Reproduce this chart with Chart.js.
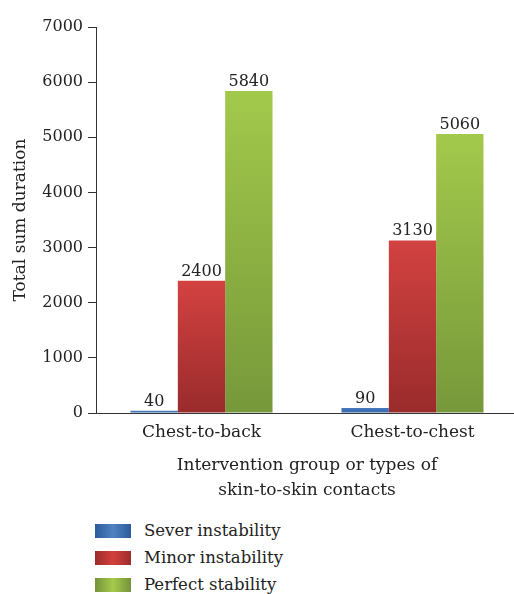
<!DOCTYPE html>
<html><head><meta charset="utf-8">
<script src="https://cdn.jsdelivr.net/npm/chart.js@4"></script>
<style>
html,body{margin:0;padding:0;background:#fff;overflow:hidden;width:514px;height:594px;}
#wrap{position:absolute;left:0;top:0;width:540px;height:505px;}
#legend{position:absolute;left:95px;top:517px;font-family:"DejaVu Serif";font-size:16.5px;color:#222;}
.item{display:flex;align-items:center;height:27px;white-space:nowrap;}
.sw{width:36px;height:14px;margin-right:13px;flex:none;}
</style></head><body>
<div id="wrap"><canvas id="c" width="540" height="505"></canvas></div>
<div id="legend"></div>
<script>
const categories = ["Chest-to-back", "Chest-to-chest"];
const seriesNames = ["Sever instability", "Minor instability", "Perfect stability"];
const severValues = [40, 90];
const minorValues = [2400, 3130];
const perfectValues = [5840, 5060];
const yTickValues = [0, 1000, 2000, 3000, 4000, 5000, 6000, 7000];
const xTitle = ["Intervention group or types of", "skin-to-skin contacts"];
const yTitle = "Total sum duration";

const FONT = "DejaVu Serif";
const styles = [
  {top: "#4677bd", bottom: "#3766aa", edge: "#2d5a9a", mid: "#4f82c4"},
  {top: "#d24241", bottom: "#9a2b2b", edge: "#9b2d2b", mid: "#d3403c"},
  {top: "#a3c94b", bottom: "#77983a", edge: "#74933a", mid: "#a5ca4c"}
];

function barGradient(st) {
  return (c) => {
    const chart = c.chart;
    if (!chart.chartArea || c.type !== 'data') return st.bottom;
    const ys = chart.scales.y;
    const y0 = ys.getPixelForValue(c.raw), y1 = ys.getPixelForValue(0);
    if (y1 - y0 < 2) return st.top;
    const g = chart.ctx.createLinearGradient(0, y0, 0, y1);
    g.addColorStop(0, st.top);
    g.addColorStop(1, st.bottom);
    return g;
  };
}

const valueLabels = {
  id: 'valueLabels',
  afterDatasetsDraw(chart) {
    const ctx = chart.ctx;
    ctx.save();
    ctx.font = '16px "' + FONT + '"';
    ctx.fillStyle = '#222';
    ctx.textAlign = 'center';
    ctx.textBaseline = 'alphabetic';
    chart.data.datasets.forEach((ds, i) => {
      chart.getDatasetMeta(i).data.forEach((el, j) => {
        ctx.fillText(String(ds.data[j]), el.x, el.y - 5);
      });
    });
    ctx.restore();
  }
};

const seriesData = [severValues, minorValues, perfectValues];
const chart = new Chart(document.getElementById('c'), {
  type: 'bar',
  data: {
    labels: categories,
    datasets: seriesNames.map((n, i) => ({
      label: n,
      data: seriesData[i],
      backgroundColor: barGradient(styles[i]),
      borderWidth: 0,
      categoryPercentage: 0.673,
      barPercentage: 1
    }))
  },
  options: {
    responsive: false,
    animation: false,
    devicePixelRatio: 1,
    layout: {padding: {top: 27, right: 22, left: 0, bottom: 0}},
    plugins: {legend: {display: false}, tooltip: {enabled: false}},
    scales: {
      x: {
        grid: {display: false, drawTicks: false},
        border: {display: true, color: '#333', width: 1},
        ticks: {color: '#222', font: {family: FONT, size: 17}, padding: 9},
        title: {display: true, text: xTitle, color: '#222', font: {family: FONT, size: 17, lineHeight: 1.47}, padding: {top: 0, bottom: 2}},
        afterFit: (s) => { s.height = 92; }
      },
      y: {
        min: 0, max: 7000,
        afterBuildTicks: (s) => { s.ticks = yTickValues.map(v => ({value: v})); },
        grid: {drawOnChartArea: false, drawTicks: true, tickLength: 8, color: '#333'},
        border: {display: true, color: '#333', width: 1},
        ticks: {color: '#222', font: {family: FONT, size: 16}, padding: 5, callback: (v) => String(v)},
        title: {display: true, text: yTitle, color: '#222', font: {family: FONT, size: 17}, padding: {top: 10, bottom: 0}},
        afterFit: (s) => { s.width = 96; }
      }
    }
  },
  plugins: [valueLabels]
});

const legend = document.getElementById('legend');
chart.data.datasets.forEach((ds, i) => {
  const st = styles[i];
  const item = document.createElement('div');
  item.className = 'item';
  const sw = document.createElement('div');
  sw.className = 'sw';
  sw.style.background = 'linear-gradient(to right,' + st.edge + ',' + st.mid + ' 50%,' + st.edge + ')';
  const tx = document.createElement('span');
  tx.textContent = ds.label;
  item.appendChild(sw);
  item.appendChild(tx);
  legend.appendChild(item);
});
</script>
</body></html>
